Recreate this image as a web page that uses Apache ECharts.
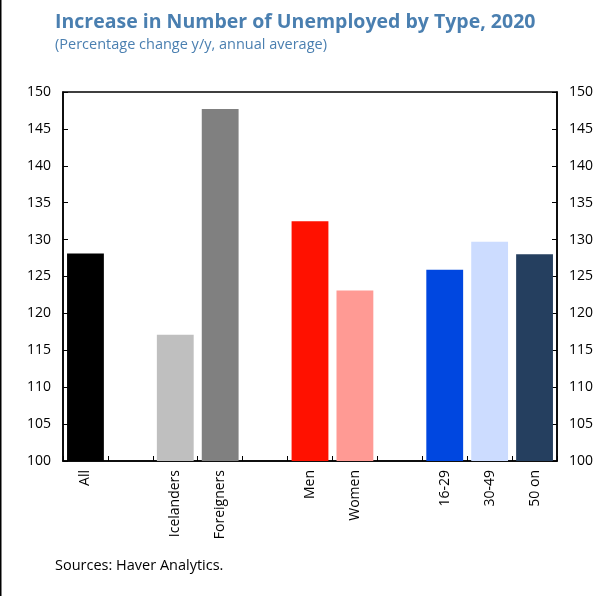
<!DOCTYPE html>
<html>
<head>
<meta charset="utf-8">
<script src="https://cdn.jsdelivr.net/npm/echarts@6/dist/echarts.min.js"></script>
<style>
  html, body { margin: 0; padding: 0; background: #fff; }
  #chart { width: 605px; height: 596px; }
</style>
</head>
<body>
<div id="chart"></div>
<script>
// categories, blanks are gaps between groups
const categories = ["All", "", "Icelanders", "Foreigners", "", "Men", "Women", "", "16-29", "30-49", "50 on"];
const values = [128.1, null, 117.1, 147.7, null, 132.5, 123.1, null, 125.9, 129.7, 128.0];
const barColors = ["#000000", null, "#bfbfbf", "#808080", null, "#ff1100", "#ff9a94", null, "#0047e0", "#ccdcff", "#253f5f"];
const yTicks = [100, 105, 110, 115, 120, 125, 130, 135, 140, 145, 150];

const chart = echarts.init(document.getElementById("chart"), null, { renderer: "canvas" });

const font = "'Open Sans', 'Noto Sans', sans-serif";

function yAxis(pos) {
  return {
    type: "value",
    position: pos,
    min: yTicks[0],
    max: yTicks[yTicks.length - 1],
    interval: 5,
    axisLine: { show: true, lineStyle: { color: "#000", width: 1.5 } },
    axisTick: { show: true, inside: true, length: 5, lineStyle: { color: "#000", width: 1 } },
    axisLabel: { color: "#000", fontSize: 14, fontFamily: font, margin: 12 },
    splitLine: { show: false }
  };
}

chart.setOption({
  animation: false,
  backgroundColor: "#fff",
  title: [
    {
      text: "Increase in Number of Unemployed by Type, 2020",
      left: 50,
      top: 7,
      textStyle: { color: "#4a7fb0", fontSize: 19.5, fontWeight: "bold", fontFamily: font }
    },
    {
      text: "(Percentage change y/y, annual average)",
      left: 50,
      top: 32,
      textStyle: { color: "#4a7fb0", fontSize: 14.5, fontWeight: "normal", fontFamily: font }
    },
    {
      text: "Sources: Haver Analytics.",
      left: 50,
      top: 553,
      textStyle: { color: "#000", fontSize: 14.5, fontWeight: "normal", fontFamily: font }
    }
  ],
  graphic: [
    { type: "line", shape: { x1: 0.75, y1: 0, x2: 0.75, y2: 596 }, style: { stroke: "#000", lineWidth: 1.5 } }
  ],
  grid: {
    left: 63,
    right: 48,
    top: 92,
    bottom: 135,
    show: true,
    borderColor: "#000",
    borderWidth: 1.5
  },
  xAxis: {
    type: "category",
    data: categories,
    axisLine: { show: true, lineStyle: { color: "#000", width: 1.5 } },
    axisTick: { show: true, inside: true, length: 5, interval: 0, lineStyle: { color: "#000", width: 1 } },
    axisLabel: { interval: 0, rotate: 90, color: "#000", fontSize: 14, fontFamily: font, margin: 9 }
  },
  yAxis: [yAxis("left"), yAxis("right")],
  series: [
    {
      type: "bar",
      barWidth: "82%",
      data: values.map((v, i) => v === null ? "-" : { value: v, itemStyle: { color: barColors[i] } })
    }
  ]
});
</script>
</body>
</html>
